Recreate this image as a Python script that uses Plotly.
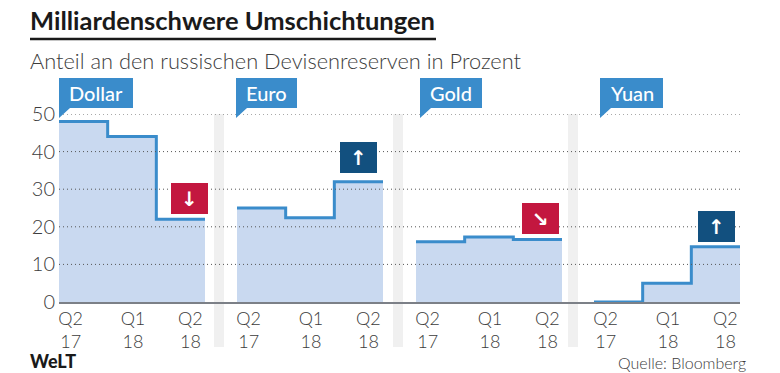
import plotly.graph_objects as go

title = "Milliardenschwere Umschichtungen"
subtitle = "Anteil an den russischen Devisenreserven in Prozent"
source = "Quelle: Bloomberg"
logo = "WeLT"

panels = ["Dollar", "Euro", "Gold", "Yuan"]
quarter_labels = ["Q2<br>17", "Q1<br>18", "Q2<br>18"]
dollar = [48, 44, 22]
euro = [25, 22.4, 32]
gold = [16, 17.3, 16.6]
yuan = [0, 5, 14.7]
y_ticks = [0, 10, 20, 30, 40, 50]
directions = ["↓", "↑", "↘", "↑"]

series = [dollar, euro, gold, yuan]

W, H = 780, 373
L, R, T, B = 59, 740, 114, 302
FONT = "Lato"
TXT = "#3c3c3c"
BLUE = "#3a8ccb"
FILL = "#c9d9f0"
RED = "#c3173f"
NAVY = "#12507f"
BAND = "#f0f0f0"


def px(v):
    return (v - L) / (R - L)


def py(v):
    return (B - v) / (B - T)


panel_left = [59, 237, 416, 594]
panel_w = 146
label_left = [59, 236, 420, 600]
label_w = [74, 61, 62, 63]
box_pos = [(171, 183), (340, 142), (522, 203), (698, 211)]
box_col = [RED, NAVY, RED, NAVY]
tick_pos = [0.24, 1.52, 2.70]

fig = go.Figure()
layout_axes = {}
shapes = []
annotations = []

for x0 in [214, 393, 568]:
    shapes.append(dict(type="rect", xref="paper", yref="paper", x0=px(x0), x1=px(x0 + 10),
                       y0=py(347), y1=py(114), fillcolor=BAND, line_width=0, layer="below"))

shapes.append(dict(type="line", xref="paper", yref="paper", x0=0, x1=1, y0=py(303), y1=py(303),
                   line=dict(color="#7c8087", width=2), layer="between"))
for t in y_ticks[1:]:
    shapes.append(dict(type="line", xref="paper", yref="y", x0=0, x1=1, y0=t, y1=t,
                       line=dict(color="#555555", width=1, dash="1px,3px")))

for i, (name, vals) in enumerate(zip(panels, series)):
    suffix = "" if i == 0 else str(i + 1)
    xa = "x" + suffix
    pos = list(range(len(vals)))
    fig.add_trace(go.Bar(x=[p + 0.5 for p in pos], y=vals, width=1, marker_color=FILL,
                         marker_line_width=0, xaxis=xa, yaxis="y", showlegend=False, hoverinfo="skip"))
    step_x, step_y = [], []
    for p, v in zip(pos, vals):
        step_x += [p, p + 1]
        step_y += [v, v]
    fig.add_trace(go.Scatter(x=step_x, y=step_y, mode="lines", line=dict(color=BLUE, width=3),
                             xaxis=xa, yaxis="y", showlegend=False, hoverinfo="skip", cliponaxis=False))
    layout_axes["xaxis" + suffix] = dict(
        domain=[px(panel_left[i]), px(panel_left[i] + panel_w)], range=[0, 3], anchor="y",
        tickmode="array", tickvals=tick_pos, ticktext=quarter_labels, ticks="", showgrid=False,
        zeroline=False, showline=False, tickangle=0, ticklabelstandoff=4,
        tickfont=dict(family=FONT, size=18, color=TXT, weight=300))

    x0 = label_left[i]
    xr = x0 + label_w[i]
    shapes.append(dict(type="path", xref="paper", yref="paper", fillcolor=BLUE, line_width=0,
                       path=f"M {px(x0)} {py(78)} L {px(xr)} {py(78)} L {px(xr)} {py(108)} "
                            f"L {px(x0 + 11)} {py(108)} L {px(x0)} {py(118)} Z"))
    annotations.append(dict(xref="paper", yref="paper", x=px(x0 + label_w[i] / 2), y=py(92.5), text=name,
                            xanchor="center", yanchor="middle", showarrow=False,
                            font=dict(family=FONT, size=20, color="white", weight=500)))
    bx, by = box_pos[i]
    shapes.append(dict(type="rect", xref="paper", yref="paper", x0=px(bx), x1=px(bx + 37),
                       y0=py(by + 31), y1=py(by), fillcolor=box_col[i], line_width=0))
    annotations.append(dict(xref="paper", yref="paper", x=px(bx + 18.5), y=py(by + 15.5), text=directions[i],
                            xanchor="center", yanchor="middle", showarrow=False,
                            font=dict(family="DejaVu Sans", size=20, color="white", weight="bold")))

shapes.append(dict(type="line", xref="paper", yref="paper", x0=px(30), x1=px(436), y0=py(39), y1=py(39),
                   line=dict(color="#1a1a1a", width=2.5)))

annotations += [
    dict(xref="paper", yref="paper", x=px(28), y=py(20), xanchor="left", yanchor="middle", text=title,
         showarrow=False, font=dict(family=FONT, size=25.5, color="#1a1a1a", weight="bold")),
    dict(xref="paper", yref="paper", x=px(28), y=py(60), xanchor="left", yanchor="middle", text=subtitle,
         showarrow=False, font=dict(family=FONT, size=21.8, color=TXT, weight=300)),
    dict(xref="paper", yref="paper", x=px(748), y=py(362), xanchor="right", yanchor="middle", text=source,
         showarrow=False, font=dict(family=FONT, size=16, color=TXT, weight=300)),
    dict(xref="paper", yref="paper", x=px(28), y=py(361), xanchor="left", yanchor="middle", text=logo,
         showarrow=False, font=dict(family="Lato", size=18, color="#1a1a1a", weight=900)),
]

fig.update_layout(
    width=W, height=H, autosize=False, margin=dict(l=L, r=W - R, t=T, b=H - B),
    paper_bgcolor="white", plot_bgcolor="rgba(0,0,0,0)", bargap=0,
    yaxis=dict(range=[0, 50], tickvals=y_ticks, showgrid=False, zeroline=False, showline=False,
               anchor="x", ticks="", ticklabelstandoff=3,
               tickfont=dict(family=FONT, size=20, color=TXT, weight=300)),
    shapes=shapes, annotations=annotations, **layout_axes,
)

fig.write_html("out.html", config={"displayModeBar": False},
               post_script="document.body.style.margin='0';document.body.style.overflow='hidden';")
